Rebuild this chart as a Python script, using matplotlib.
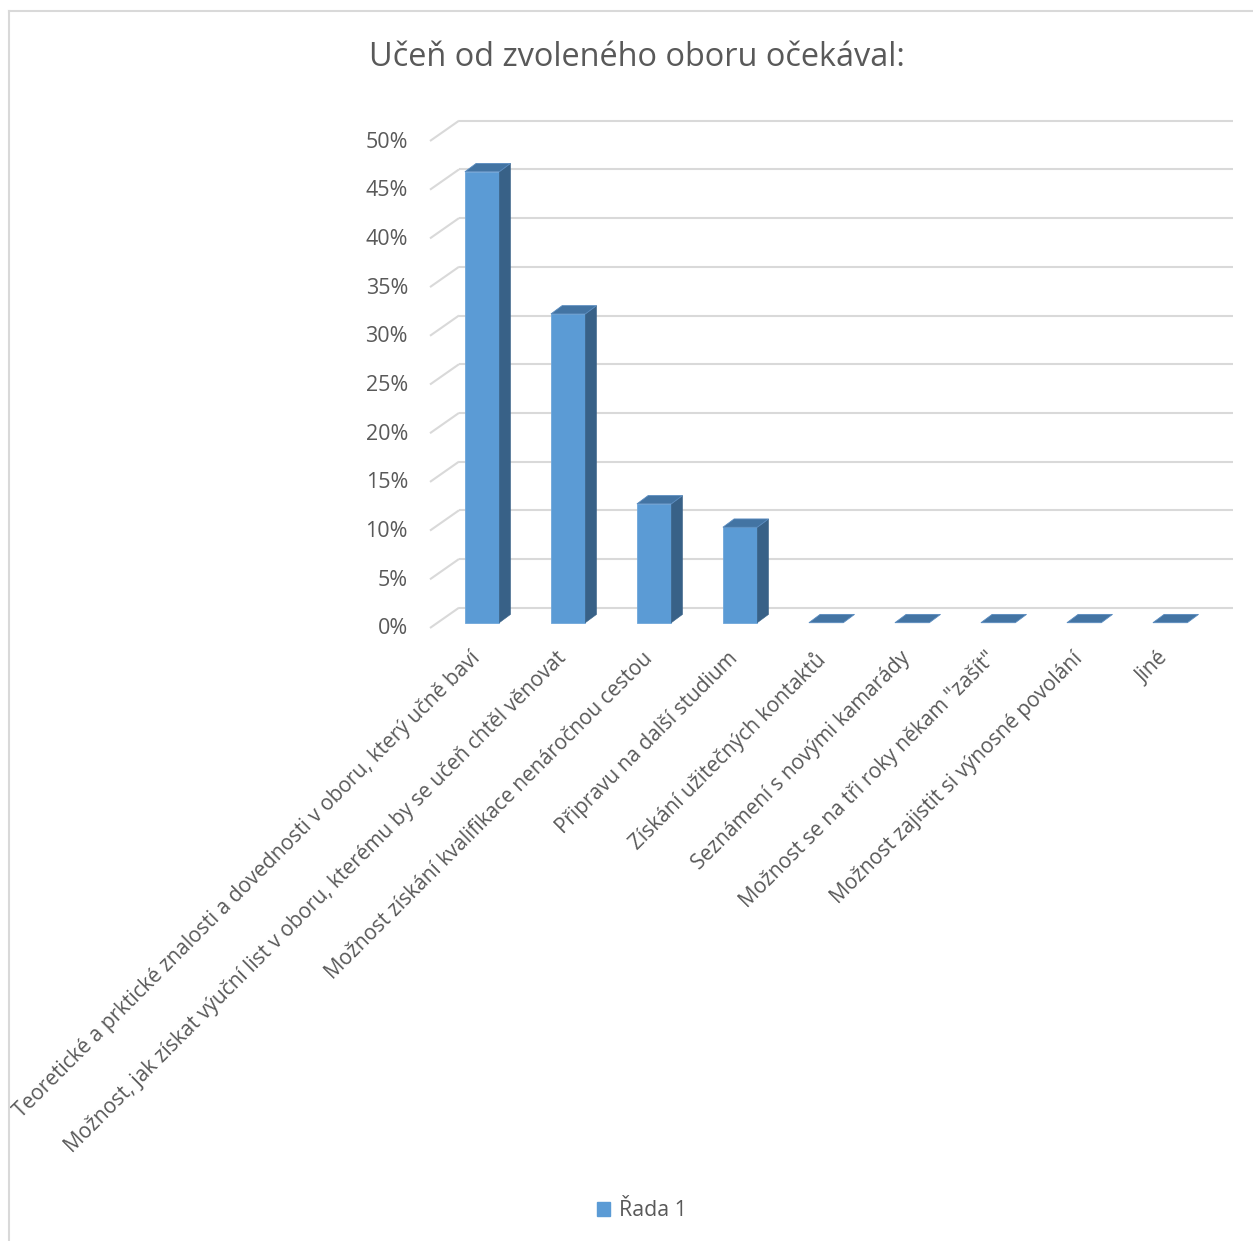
import matplotlib.pyplot as plt
from matplotlib.patches import Polygon, Patch
from matplotlib.lines import Line2D
from matplotlib.transforms import offset_copy, Bbox, TransformedBbox

plt.rcParams['font.family'] = ['Open Sans', 'DejaVu Sans']

title = "Učeň od zvoleného oboru očekával:"
categories = [
    "Teoretické a prktické znalosti a dovednosti v oboru, který učně baví",
    "Možnost, jak získat výuční list v oboru, kterému by se učeň chtěl věnovat",
    "Možnost získání kvalifikace nenáročnou cestou",
    "Připravu na další studium",
    "Získání užitečných kontaktů",
    "Seznámení s novými kamarády",
    "Možnost se na tři roky někam \"zašít\"",
    "Možnost zajistit si výnosné povolání",
    "Jiné",
]
values = [46.3, 31.7, 12.2, 9.8, 0, 0, 0, 0, 0]
yticks = [0, 5, 10, 15, 20, 25, 30, 35, 40, 45, 50]
series_name = "Řada 1"

W, H = 1253, 1241
fig = plt.figure(figsize=(W / 100, H / 100), dpi=100)
ax = fig.add_axes([430 / W, 1 - 628 / H, 774 / W, 487 / H])
ax.set_xlim(-0.52, 8.48)
ax.set_ylim(0, 50)
ax.axis('off')

# pixel -> data conversions for the fake 3D depth
ppx = 774 / 9.0
ppy = 487 / 50.0
def dx(p):
    return p / ppx
def dy(p):
    return p / ppy

grid_c = '#d9d9d9'
text_c = '#595959'
x0, x1 = ax.get_xlim()

# walls: back gridlines + left diagonals
for t in yticks:
    ax.plot([x0 + dx(29), x1 + dx(29)], [t + dy(20.3), t + dy(20.3)],
            color=grid_c, lw=1.5, solid_capstyle='butt', zorder=1, clip_on=False)
    ax.plot([x0, x0 + dx(29)], [t, t + dy(20.3)],
            color=grid_c, lw=1.5, solid_capstyle='butt', zorder=1, clip_on=False)
    ax.text(x0, t, f"{t}%", transform=offset_copy(ax.transData, fig=fig, x=-22, y=-1, units='dots'),
            ha='right', va='center', fontsize=15.5, color=text_c)

# bars
bw = 0.4
fx, fy = dx(7.4), dy(5.3)      # bar front plane
bx, by = dx(11.2), dy(8.3)     # bar depth
front_c = '#5b9bd5'
side_c = '#386187'
top_c = '#4374a3'
for i, v in enumerate(values):
    l = i - bw / 2 + fx
    r = i + bw / 2 + fx
    b = fy
    t = v + fy
    if v > 0:
        ax.add_patch(Polygon([(l, b), (r, b), (r, t), (l, t)], closed=True,
                             facecolor=front_c, edgecolor='#6ea6da', lw=0.6, zorder=3, clip_on=False))
        ax.add_patch(Polygon([(r, b), (r + bx, b + by), (r + bx, t + by), (r, t)], closed=True,
                             facecolor=side_c, edgecolor=side_c, lw=0.4, zorder=3, clip_on=False))
    ax.add_patch(Polygon([(l, t), (r, t), (r + bx, t + by), (l + bx, t + by)], closed=True,
                         facecolor=top_c, edgecolor='#5a8cc0', lw=0.6, zorder=3, clip_on=False))

# category labels (clipped at the chart area's left edge)
lab_tr = offset_copy(ax.transData, fig=fig, x=-5, y=-20, units='dots')
area = TransformedBbox(Bbox([[10 / W, 0], [1, 1]]), fig.transFigure)
for i, c in enumerate(categories):
    txt = ax.text(i, 0, c, transform=lab_tr, rotation=45, rotation_mode='anchor',
                  ha='right', va='top', fontsize=15, color=text_c)
    txt.set_clip_box(area)
    txt.set_clip_on(True)

fig.text(636.5 / W, 1 - 57 / H, title, ha='center', va='center', fontsize=23.4, color=text_c)

fig.legend(handles=[Patch(color=front_c, label=series_name)], loc='center',
           bbox_to_anchor=(642 / W, 1 - 1211 / H), frameon=False,
           handlelength=0.6, handleheight=0.6, handletextpad=0.4,
           fontsize=15.4, labelcolor=text_c)

# chart area border (left and top)
fig.add_artist(Line2D([9 / W, 9 / W], [0, 1 - 11 / H], transform=fig.transFigure, color=grid_c, lw=1.5))
fig.add_artist(Line2D([9 / W, 1], [1 - 11 / H, 1 - 11 / H], transform=fig.transFigure, color=grid_c, lw=1.5))

fig.savefig('out.png', dpi=100, facecolor='white')
